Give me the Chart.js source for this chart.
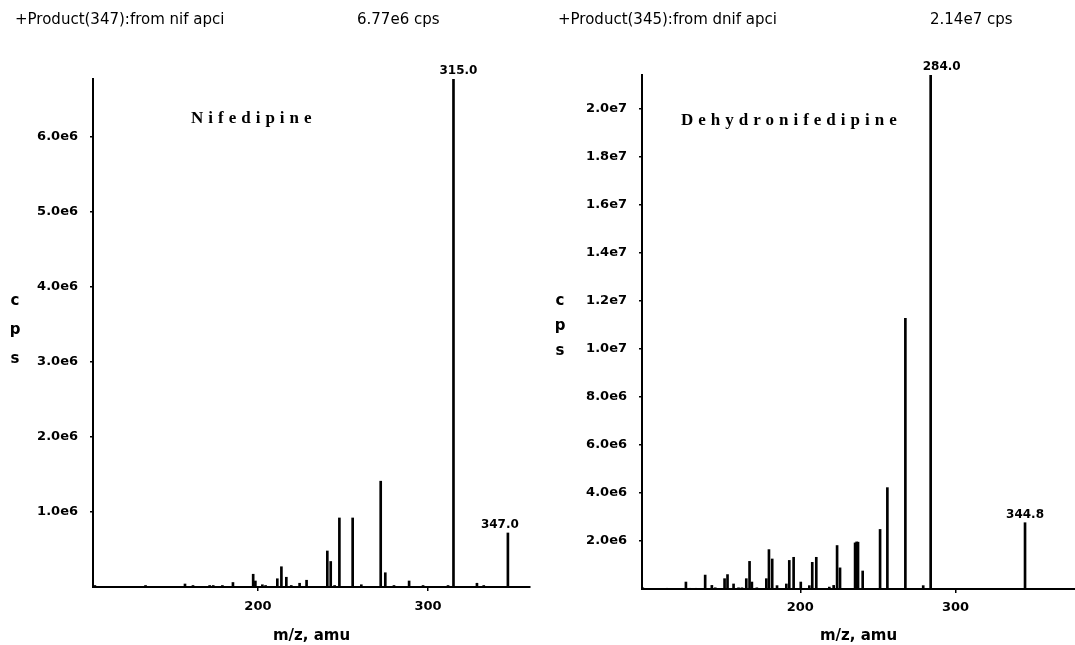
<!DOCTYPE html>
<html>
<head>
<meta charset="utf-8">
<script src="https://cdn.jsdelivr.net/npm/chart.js@4/dist/chart.umd.min.js"></script>
<style>
  html, body { margin:0; padding:0; background:#fff; }
  body { width:1075px; height:645px; position:relative; overflow:hidden; font-family:"DejaVu Sans", sans-serif; color:#000; }
  canvas { position:absolute; top:0; }
  .txt { position:absolute; white-space:nowrap; z-index:2; }
  .hdr { font-size:15px; line-height:18px; top:10px; }
  .cmp { font-family:"Liberation Serif", serif; font-weight:bold; font-size:17px; line-height:20px; letter-spacing:5px; }
  .ylab { font-weight:bold; font-size:15px; width:14px; text-align:center; }
</style>
</head>
<body>
<canvas id="left" width="548" height="645" style="left:0px"></canvas>
<canvas id="right" width="527" height="645" style="left:548px"></canvas>

<div class="txt hdr" style="left:15px">+Product(347):from nif apci</div>
<div class="txt hdr" style="left:357px">6.77e6 cps</div>
<div class="txt hdr" style="left:558px">+Product(345):from dnif apci</div>
<div class="txt hdr" style="left:930px">2.14e7 cps</div>
<div class="txt cmp" style="left:191px; top:108px">Nifedipine</div>
<div class="txt cmp" style="left:681px; top:110px">Dehydronifedipine</div>
<div class="txt ylab" style="left:8px; top:286px; line-height:29px">c<br>p<br>s</div>
<div class="txt ylab" style="left:553px; top:288px; line-height:25px">c<br>p<br>s</div>

<script>
// ---------- Data: Nifedipine product-ion spectrum (precursor 347) ----------
const nifMz = [104.1, 133.9, 157.1, 161.8, 171.6, 173.7, 179.1, 185.3, 197.2, 198.5,
               202.6, 204.5, 211.4, 213.8, 216.7, 219.6, 224.5, 228.6, 240.8, 242.8,
               245.1, 247.9, 255.7, 260.8, 272.2, 274.9, 280.0, 288.9, 297.1, 311.8,
               315.0, 328.8, 332.8, 347.0];
const nifCps = [0.02e6, 0.02e6, 0.04e6, 0.02e6, 0.02e6, 0.02e6, 0.02e6, 0.06e6, 0.17e6, 0.08e6,
                0.03e6, 0.02e6, 0.11e6, 0.27e6, 0.13e6, 0.02e6, 0.05e6, 0.09e6, 0.48e6, 0.34e6,
                0.02e6, 0.92e6, 0.92e6, 0.03e6, 1.41e6, 0.19e6, 0.02e6, 0.08e6, 0.02e6, 0.02e6,
                6.77e6, 0.05e6, 0.02e6, 0.72e6];
const nifLabelled = [315.0, 347.0];
const nifYTicks = [1e6, 2e6, 3e6, 4e6, 5e6, 6e6];
const nifXTicks = [200, 300];

// ---------- Data: Dehydronifedipine product-ion spectrum (precursor 345) ----------
const dnifMz = [98.5, 114.0, 126.3, 128.8, 132.9, 138.7, 143.0, 145.2, 151.2, 153.1,
                157.0, 160.2, 162.4, 165.2, 167.3, 168.8, 172.0, 178.1, 179.8, 181.9,
                185.0, 191.0, 192.9, 195.7, 200.3, 205.8, 207.7, 210.3, 218.7, 221.5,
                223.7, 225.6, 235.3, 236.3, 237.2, 240.2, 251.4, 256.1, 267.7, 279.2,
                284.0, 344.8];
const dnifCps = [0.05e6, 0.03e6, 0.29e6, 0.03e6, 0.03e6, 0.58e6, 0.15e6, 0.05e6, 0.43e6, 0.60e6,
                 0.21e6, 0.05e6, 0.05e6, 0.43e6, 1.15e6, 0.29e6, 0.05e6, 0.43e6, 1.64e6, 1.25e6,
                 0.14e6, 0.21e6, 1.19e6, 1.32e6, 0.29e6, 0.14e6, 1.11e6, 1.32e6, 0.08e6, 0.15e6,
                 1.81e6, 0.88e6, 1.92e6, 1.96e6, 1.95e6, 0.75e6, 2.48e6, 4.22e6, 11.27e6, 0.14e6,
                 21.4e6, 2.76e6];
const dnifLabelled = [284.0, 344.8];
const dnifYTicks = [2e6, 4e6, 6e6, 8e6, 1e7, 1.2e7, 1.4e7, 1.6e7, 1.8e7, 2e7];
const dnifXTicks = [200, 300];

// ---------- Helpers ----------
const TICK_FONT = { family: '"DejaVu Sans"', size: 13, weight: 'bold' };

const peakLabelPlugin = {
  id: 'peakLabels',
  afterDatasetsDraw(chart, args, opts) {
    const { ctx, scales: { x, y } } = chart;
    const data = chart.data.datasets[0].data;
    ctx.save();
    ctx.font = 'bold 12px "DejaVu Sans"';
    ctx.fillStyle = '#000';
    ctx.textAlign = 'center';
    ctx.textBaseline = 'bottom';
    opts.peaks.forEach((m, i) => {
      const pt = data.find(d => d.x === m);
      if (!pt) return;
      ctx.fillText(m.toFixed(1), x.getPixelForValue(m) + (opts.dx[i] || 0), y.getPixelForValue(pt.y) - 2);
    });
    ctx.restore();
  }
};

function makeChart(canvasId, mz, cps, labelled, labelDx, yTicks, xTicks, cfg) {
  const points = mz.map((m, i) => ({ x: m, y: cps[i] }));
  return new Chart(document.getElementById(canvasId), {
    type: 'bar',
    data: {
      datasets: [{
        data: points,
        backgroundColor: '#000',
        borderWidth: 0,
        barThickness: 2
      }]
    },
    plugins: [peakLabelPlugin],
    options: {
      responsive: false,
      animation: false,
      events: [],
      layout: { padding: cfg.padding },
      plugins: {
        legend: { display: false },
        tooltip: { enabled: false },
        peakLabels: { peaks: labelled, dx: labelDx }
      },
      scales: {
        x: {
          type: 'linear',
          offset: false,
          min: cfg.xMin, max: cfg.xMax,
          afterBuildTicks: s => { s.ticks = xTicks.map(v => ({ value: v })); },
          afterFit: s => { s.height = cfg.xAxisHeight; },
          ticks: { color: '#000', font: TICK_FONT, padding: cfg.xTickPad, maxRotation: 0, callback: v => String(v) },
          grid: { display: true, offset: false, drawOnChartArea: false, drawTicks: true, tickLength: 4, color: '#000', lineWidth: 1.5 },
          border: { display: true, color: '#000', width: 2 },
          title: { display: true, text: 'm/z, amu', color: '#000',
                   font: { family: '"DejaVu Sans"', size: 15, weight: 'bold' },
                   padding: { top: 0, bottom: 0 } }
        },
        y: {
          type: 'linear',
          min: 0, max: cfg.yMax,
          afterBuildTicks: s => { s.ticks = yTicks.map(v => ({ value: v })); },
          afterFit: s => { s.width = cfg.yAxisWidth; },
          ticks: { color: '#000', font: TICK_FONT, padding: 12,
                   callback: v => Number(v).toExponential(1).replace('e+', 'e') },
          grid: { display: true, drawOnChartArea: false, drawTicks: true, tickLength: 3, color: '#000', lineWidth: 1.5 },
          border: { display: true, color: '#000', width: 2 }
        }
      }
    }
  });
}

makeChart('left', nifMz, nifCps, nifLabelled, [5, -8], nifYTicks, nifXTicks, {
  padding: { top: 79, right: 18, left: 0, bottom: 0 },
  xMin: 103, xMax: 360, yMax: 6.77e6,
  yAxisWidth: 93, xAxisHeight: 58, xTickPad: 8
});

makeChart('right', dnifMz, dnifCps, dnifLabelled, [11, 0], dnifYTicks, dnifXTicks, {
  padding: { top: 75, right: 0, left: 0, bottom: 0 },
  xMin: 98, xMax: 377, yMax: 2.14e7,
  yAxisWidth: 94, xAxisHeight: 56, xTickPad: 7
});
</script>
</body>
</html>
